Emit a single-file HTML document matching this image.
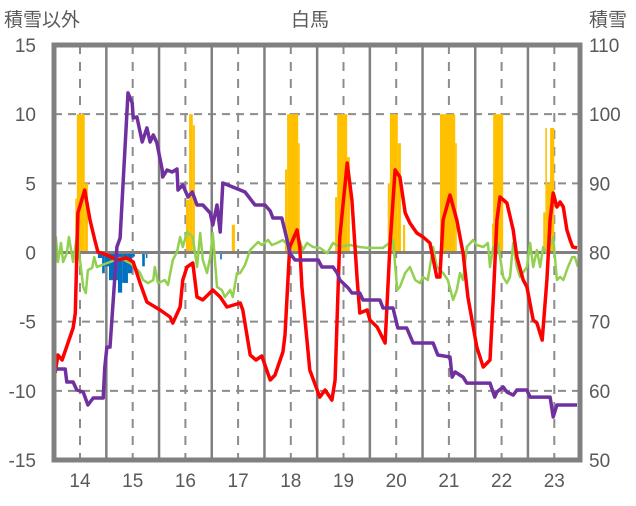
<!DOCTYPE html>
<html><head><meta charset="utf-8"><style>
body{margin:0;background:#fff;}
svg text{font-family:"Liberation Sans","Noto Sans CJK JP",sans-serif;fill:#595959;}
</style></head><body>
<svg id="chart" width="636" height="501" viewBox="0 0 636 501">
<g id="grid"></g>
<g id="bars"></g>
<g id="lines"></g>
<g id="frame"></g>
<g id="labels"></g>
<text x="310" y="26" font-size="19" text-anchor="middle">白馬</text>
<text x="4" y="26" font-size="19">積雪以外</text>
<text x="589" y="26" font-size="19">積雪</text>
</svg>
<script>
const leftTicks=[15,10,5,0,-5,-10,-15];
const rightTicks=[110,100,90,80,70,60,50];
const yearTicks=[14,15,16,17,18,19,20,21,22,23];
const redT=[13.53,13.58,13.66,13.87,13.91,13.96,14.09,14.19,14.28,14.34,14.51,14.70,14.89,15.01,15.14,15.27,15.52,15.71,15.76,15.90,15.95,16.03,16.14,16.22,16.33,16.52,16.66,16.79,17.04,17.09,17.23,17.34,17.45,17.61,17.70,17.85,17.89,17.98,18.12,18.17,18.21,18.36,18.55,18.65,18.78,18.84,18.93,19.07,19.16,19.26,19.31,19.45,19.50,19.64,19.79,19.88,19.98,20.07,20.17,20.26,20.39,20.51,20.64,20.77,20.83,20.89,21.02,21.15,21.27,21.36,21.53,21.65,21.78,21.84,21.91,21.97,22.10,22.22,22.29,22.41,22.48,22.60,22.67,22.77,22.86,22.92,22.98,23.05,23.11,23.17,23.24,23.30,23.35,23.43];
const redV=[-8.71,-7.41,-7.77,-5.46,-4.37,2.86,4.52,2.35,0.90,0.04,-0.18,-0.54,-0.40,-0.69,-2.21,-3.58,-4.16,-4.66,-5.10,-3.94,-1.99,-1.05,-0.76,-3.22,-3.43,-2.71,-3.22,-3.94,-3.65,-4.16,-7.41,-7.77,-7.48,-9.22,-8.86,-7.19,-5.97,0.40,1.63,0.40,-2.49,-8.50,-10.45,-9.94,-10.67,-9.22,1.12,6.47,3.80,-1.99,-4.37,-4.16,-4.88,-5.39,-6.54,0.40,5.97,5.46,2.86,2.13,1.41,1.12,0.69,-1.77,-1.77,2.35,4.16,2.35,-0.04,-3.22,-6.83,-8.28,-7.77,-3.43,2.35,4.01,3.58,1.63,-0.33,-1.99,-2.49,-4.88,-5.10,-6.33,-1.99,2.35,4.30,3.29,3.65,3.29,1.63,0.90,0.40,0.33];
const purpleT=[13.49,13.72,13.75,13.87,13.94,14.06,14.15,14.25,14.44,14.47,14.51,14.57,14.70,14.76,14.91,14.99,15.01,15.08,15.18,15.27,15.33,15.39,15.46,15.56,15.57,15.65,15.75,15.84,15.86,15.95,16.05,16.13,16.22,16.33,16.47,16.52,16.60,16.66,16.71,17.04,17.13,17.32,17.51,17.61,17.66,17.83,17.93,17.98,18.08,18.52,18.59,18.80,18.88,18.93,18.99,19.09,19.16,19.31,19.37,19.69,19.75,19.94,20.03,20.20,20.32,20.70,20.79,21.02,21.06,21.12,21.27,21.34,21.78,21.87,21.91,22.03,22.10,22.22,22.29,22.48,22.54,22.92,22.98,23.05,23.43];
const purpleV=[63.15,63.15,61.27,61.27,60.12,59.83,57.95,58.96,58.96,63.44,66.33,66.33,80.80,82.10,103.07,101.62,99.46,99.60,95.98,98.01,95.98,96.99,95.84,91.93,90.92,91.93,91.64,92.07,89.04,89.76,88.03,88.75,86.87,86.87,85.71,83.98,86.87,82.97,90.05,89.04,88.75,86.87,86.87,86.00,84.99,84.99,81.81,79.93,78.92,78.92,77.90,77.90,77.04,76.02,75.59,74.87,74.14,74.14,73.13,73.13,71.97,71.97,69.08,69.08,66.91,66.91,65.18,64.89,61.99,62.72,61.99,61.12,61.12,59.10,59.83,60.55,59.83,59.39,60.12,60.12,59.10,59.10,56.21,57.95,57.95];
const greenT=[13.49,13.54,13.58,13.64,13.68,13.75,13.79,13.87,13.94,14.00,14.06,14.11,14.15,14.23,14.27,14.32,14.57,14.76,14.95,15.04,15.14,15.20,15.29,15.39,15.42,15.48,15.61,15.67,15.76,15.84,15.90,15.95,16.03,16.14,16.22,16.28,16.33,16.41,16.47,16.52,16.60,16.69,16.75,16.85,16.90,16.98,17.04,17.13,17.23,17.38,17.45,17.57,17.64,17.74,17.85,17.98,18.04,18.14,18.23,18.31,18.42,18.55,18.69,18.80,18.93,19.12,19.31,19.45,19.75,19.94,20.02,20.07,20.17,20.26,20.36,20.45,20.51,20.60,20.70,20.77,20.89,20.98,21.08,21.15,21.21,21.27,21.34,21.46,21.53,21.65,21.74,21.78,21.84,21.93,22.03,22.10,22.16,22.22,22.29,22.35,22.48,22.54,22.60,22.67,22.73,22.79,22.86,22.98,23.05,23.11,23.17,23.26,23.34,23.39,23.45];
const greenV=[-0.54,1.12,-0.69,0.69,-0.69,-0.04,1.12,-0.69,1.12,-0.54,-2.49,-2.93,-1.27,-1.12,-0.33,-1.05,-0.69,-0.40,-0.76,-1.05,-1.48,-1.99,-2.21,-1.99,-1.05,-2.21,-1.99,-2.35,-0.54,0.04,1.12,0.40,1.48,1.12,-1.05,1.41,-0.54,-1.48,-0.33,1.41,-2.49,-2.71,-3.22,-2.71,-3.22,-1.48,-1.48,-0.90,0.18,0.76,0.54,0.90,0.54,0.69,0.90,0.40,0.90,1.12,0.18,0.69,0.40,0.33,-0.04,0.69,0.40,0.54,0.40,0.33,0.33,0.90,-2.71,-2.49,-1.48,-1.05,-1.99,-2.21,-1.77,-1.99,0.40,-1.05,-1.48,-1.99,-3.43,-2.71,-1.48,-1.99,0.40,0.90,0.54,0.40,0.69,-1.05,0.40,0.69,-1.77,-2.21,-1.77,0.69,-1.05,-1.77,-1.05,0.69,-1.05,0.18,-1.05,0.40,-0.04,1.12,-1.99,-1.77,-1.99,-1.05,-0.33,-0.33,-1.05];
const orangeStart=[13.91,13.94,14.09,16.01,16.07,16.14,16.88,17.89,17.93,18.14,18.84,18.88,19.07,19.84,19.88,20.03,20.13,20.83,21.12,21.82,21.84,22.79,22.83,22.86,22.92];
const orangeEnd=[13.94,14.09,14.15,16.07,16.14,16.18,16.94,17.93,18.14,18.17,18.88,19.07,19.12,19.88,20.03,20.09,20.17,21.12,21.15,21.84,22.03,22.83,22.86,22.92,23.00];
const orangeV=[3.9,10,5,3.8,10,9.2,2.0,6.0,10,7.9,4.0,10,6.9,5.0,10,7.9,2.0,10,7.9,2.1,10,2.9,9.0,5,9.0];
const blueStart=[14.34,14.42,14.47,14.55,14.72,14.80,14.91,14.99,15.18,15.25,16.66];
const blueEnd=[14.42,14.47,14.55,14.72,14.80,14.91,14.99,15.04,15.23,15.27,16.69];
const blueV=[-0.4,-1.5,-1.0,-2.0,-2.9,-2.2,-1.5,-0.3,-1.0,-0.4,-0.5];

const X0=54,X1=580,YT=45,YB=460;
function xs(t){return 80+(t-14)*52.7;}
function yl(v){return YB-(v+15)/30*(YB-YT);}
function yr(v){return YB-(v-50)/60*(YB-YT);}
const NS='http://www.w3.org/2000/svg';
function mk(tag,attrs,parent){const e=document.createElementNS(NS,tag);for(const k in attrs)e.setAttribute(k,attrs[k]);document.getElementById(parent).appendChild(e);return e;}
// grid
[10,5,-5,-10].forEach(v=>{const e=mk('line',{x1:X0,x2:X1,y1:yl(v),y2:yl(v),stroke:'#8c8c8c','stroke-width':2,'stroke-dasharray':'8,6'},'grid');

});
yearTicks.forEach(t=>{const e=mk('line',{x1:xs(t),x2:xs(t),y1:YT,y2:YB,stroke:'#8c8c8c','stroke-width':2,'stroke-dasharray':'9,8'},'grid');


if(t<23){const s=mk('line',{x1:xs(t+0.5),x2:xs(t+0.5),y1:YT,y2:YB,stroke:'#808080','stroke-width':2.5},'grid');

}});
// bars
orangeV.forEach((v,i)=>{const a=xs(orangeStart[i]),b=xs(orangeEnd[i]);const e=mk('rect',{x:a,y:yl(v),width:Math.max(b-a,1.5),height:yl(0)-yl(v),fill:'#ffc000'},'bars');

});
blueV.forEach((v,i)=>{const a=xs(blueStart[i]),b=xs(blueEnd[i]);const e=mk('rect',{x:a,y:yl(0),width:Math.max(b-a,1.5),height:yl(v)-yl(0),fill:'#0070c0'},'bars');

});
const z=mk('line',{x1:X0,x2:X1,y1:yl(0),y2:yl(0),stroke:'#808080','stroke-width':3},'bars');


function line(T,V,f,col,w,name){const p=T.map((t,i)=>xs(t).toFixed(1)+','+f(V[i]).toFixed(1)).join(' ');
const e=mk('polyline',{points:p,fill:'none',stroke:col,'stroke-width':w,'stroke-linejoin':'round'},'lines');

}
line(greenT,greenV,yl,'#92d050',2.5,'green-series');
line(redT,redV,yl,'#ff0000',3.5,'red-series');
line(purpleT,purpleV,yr,'#7030a0',3.5,'purple-series');
// frame
const fr=mk('rect',{x:X0,y:YT,width:X1-X0,height:YB-YT,fill:'none',stroke:'#808080','stroke-width':5},'frame');


leftTicks.forEach(v=>{const e=mk('text',{x:36,y:yl(v)+7,'font-size':19,'text-anchor':'end'},'labels');e.textContent=v;

});
rightTicks.forEach(v=>{const e=mk('text',{x:589,y:yr(v)+7,'font-size':19},'labels');e.textContent=v;

});
yearTicks.forEach(t=>{const e=mk('text',{x:xs(t),y:487,'font-size':19,'text-anchor':'middle'},'labels');e.textContent=t;

});
</script>
</body></html>
